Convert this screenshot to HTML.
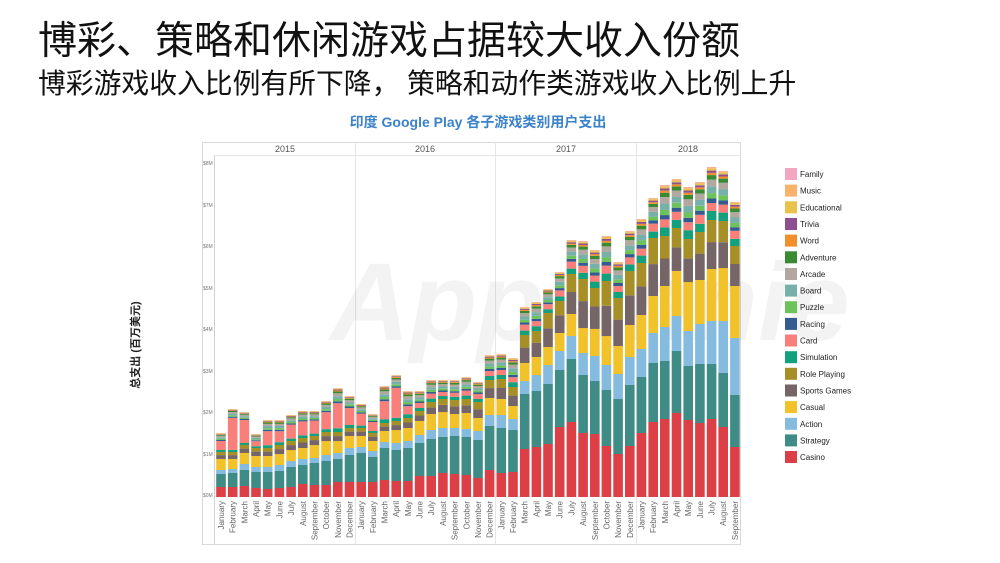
<!DOCTYPE html>
<html><head><meta charset="utf-8"><style>
body{margin:0;width:1000px;height:563px;background:#fff;overflow:hidden;font-family:"Liberation Sans","Noto Sans CJK SC",sans-serif;}
.t1{position:absolute;left:38px;top:10px;font-size:39px;color:#111;white-space:nowrap;}
.t2{position:absolute;left:38px;top:62px;font-size:27.8px;color:#111;white-space:nowrap;}
svg{position:absolute;left:0;top:0;}
</style></head><body>
<div class="t1">博彩、策略和休闲游戏占据较大收入份额</div>
<div class="t2">博彩游戏收入比例有所下降， 策略和动作类游戏收入比例上升</div>
<svg width="1000" height="563" xmlns="http://www.w3.org/2000/svg" font-family="Liberation Sans, Noto Sans CJK SC, sans-serif">
<text x="478" y="127" text-anchor="middle" font-size="14" font-weight="bold" fill="#3b82c8">印度 Google Play 各子游戏类别用户支出</text>
<text transform="translate(139,345) rotate(-90)" text-anchor="middle" font-size="11" font-weight="bold" fill="#222">总支出 (百万美元)</text>
<rect x="202.5" y="142.5" width="538" height="402" fill="none" stroke="#d8d8d8"/>
<line x1="214.5" y1="155" x2="214.5" y2="544" stroke="#d0d0d0"/>
<line x1="214" y1="155.5" x2="741" y2="155.5" stroke="#e6e6e6"/>
<g stroke="#e6e6e6"><line x1="355.5" y1="142" x2="355.5" y2="544"/><line x1="495.5" y1="142" x2="495.5" y2="544"/><line x1="636.5" y1="142" x2="636.5" y2="544"/></g>
<g font-size="9" fill="#555" text-anchor="middle"><text x="285" y="152">2015</text><text x="425" y="152">2016</text><text x="566" y="152">2017</text><text x="688" y="152">2018</text></g>
<text x="590" y="340" font-size="110" font-style="italic" font-weight="bold" fill="#000" opacity="0.045" text-anchor="middle">AppAnnie</text>
<g font-size="5" fill="#777"><text x="203" y="165">$8M</text><text x="203" y="207">$7M</text><text x="203" y="248">$6M</text><text x="203" y="290">$5M</text><text x="203" y="331">$4M</text><text x="203" y="373">$3M</text><text x="203" y="414">$2M</text><text x="203" y="456">$1M</text><text x="203" y="497">$0M</text></g>
<g id="bars"></g>
<g font-size="8" fill="#666" text-anchor="end">
<text transform="translate(224,501) rotate(-90)">January</text>
<text transform="translate(235.7,501) rotate(-90)">February</text>
<text transform="translate(247.4,501) rotate(-90)">March</text>
<text transform="translate(259,501) rotate(-90)">April</text>
<text transform="translate(270.7,501) rotate(-90)">May</text>
<text transform="translate(282.4,501) rotate(-90)">June</text>
<text transform="translate(294.1,501) rotate(-90)">July</text>
<text transform="translate(305.8,501) rotate(-90)">August</text>
<text transform="translate(317.4,501) rotate(-90)">September</text>
<text transform="translate(329.1,501) rotate(-90)">October</text>
<text transform="translate(340.8,501) rotate(-90)">November</text>
<text transform="translate(352.5,501) rotate(-90)">December</text>
<text transform="translate(364.2,501) rotate(-90)">January</text>
<text transform="translate(375.8,501) rotate(-90)">February</text>
<text transform="translate(387.5,501) rotate(-90)">March</text>
<text transform="translate(399.2,501) rotate(-90)">April</text>
<text transform="translate(410.9,501) rotate(-90)">May</text>
<text transform="translate(422.6,501) rotate(-90)">June</text>
<text transform="translate(434.2,501) rotate(-90)">July</text>
<text transform="translate(445.9,501) rotate(-90)">August</text>
<text transform="translate(457.6,501) rotate(-90)">September</text>
<text transform="translate(469.3,501) rotate(-90)">October</text>
<text transform="translate(481,501) rotate(-90)">November</text>
<text transform="translate(492.6,501) rotate(-90)">December</text>
<text transform="translate(504.3,501) rotate(-90)">January</text>
<text transform="translate(516,501) rotate(-90)">February</text>
<text transform="translate(527.7,501) rotate(-90)">March</text>
<text transform="translate(539.4,501) rotate(-90)">April</text>
<text transform="translate(551,501) rotate(-90)">May</text>
<text transform="translate(562.7,501) rotate(-90)">June</text>
<text transform="translate(574.4,501) rotate(-90)">July</text>
<text transform="translate(586.1,501) rotate(-90)">August</text>
<text transform="translate(597.8,501) rotate(-90)">September</text>
<text transform="translate(609.4,501) rotate(-90)">October</text>
<text transform="translate(621.1,501) rotate(-90)">November</text>
<text transform="translate(632.8,501) rotate(-90)">December</text>
<text transform="translate(644.5,501) rotate(-90)">January</text>
<text transform="translate(656.2,501) rotate(-90)">February</text>
<text transform="translate(667.8,501) rotate(-90)">March</text>
<text transform="translate(679.5,501) rotate(-90)">April</text>
<text transform="translate(691.2,501) rotate(-90)">May</text>
<text transform="translate(702.9,501) rotate(-90)">June</text>
<text transform="translate(714.6,501) rotate(-90)">July</text>
<text transform="translate(726.2,501) rotate(-90)">August</text>
<text transform="translate(737.9,501) rotate(-90)">September</text>
</g>
<g font-size="8" fill="#222">
<rect x="785" y="168" width="12" height="12" fill="#f4a6c0"/><text x="800" y="177">Family</text>
<rect x="785" y="184.6" width="12" height="12" fill="#f9b16e"/><text x="800" y="193.6">Music</text>
<rect x="785" y="201.3" width="12" height="12" fill="#e8c24a"/><text x="800" y="210.3">Educational</text>
<rect x="785" y="218" width="12" height="12" fill="#8c4f8f"/><text x="800" y="227">Trivia</text>
<rect x="785" y="234.6" width="12" height="12" fill="#f28e2b"/><text x="800" y="243.6">Word</text>
<rect x="785" y="251.3" width="12" height="12" fill="#3a8a34"/><text x="800" y="260.3">Adventure</text>
<rect x="785" y="268" width="12" height="12" fill="#b2a8a0"/><text x="800" y="277">Arcade</text>
<rect x="785" y="284.6" width="12" height="12" fill="#76b0a8"/><text x="800" y="293.6">Board</text>
<rect x="785" y="301.2" width="12" height="12" fill="#6dc35a"/><text x="800" y="310.2">Puzzle</text>
<rect x="785" y="317.9" width="12" height="12" fill="#345a91"/><text x="800" y="326.9">Racing</text>
<rect x="785" y="334.5" width="12" height="12" fill="#f87f7a"/><text x="800" y="343.5">Card</text>
<rect x="785" y="351.2" width="12" height="12" fill="#13a07c"/><text x="800" y="360.2">Simulation</text>
<rect x="785" y="367.8" width="12" height="12" fill="#a78f27"/><text x="800" y="376.8">Role Playing</text>
<rect x="785" y="384.5" width="12" height="12" fill="#756566"/><text x="800" y="393.5">Sports Games</text>
<rect x="785" y="401.1" width="12" height="12" fill="#f1c229"/><text x="800" y="410.1">Casual</text>
<rect x="785" y="417.8" width="12" height="12" fill="#86bbe0"/><text x="800" y="426.8">Action</text>
<rect x="785" y="434.4" width="12" height="12" fill="#3f8c86"/><text x="800" y="443.4">Strategy</text>
<rect x="785" y="451" width="12" height="12" fill="#dd3f47"/><text x="800" y="460">Casino</text>
</g>
</svg>
<script>
var D=[[10,13,4,11,7,9,10],[10,14,4,10,7,32,11],[11,16,6,11,8,23,10],[9,16,5,11,8,5,9],[8,17,5,11,8,14,14],[9,17,6,11,9,11,14],[10,20,6,11,9,14,12],[13,19,6,11,10,14,13],[12,22,5,13,9,13,12],[12,24,6,14,9,17,14],[15,23,6,12,9,25,19],[15,27,7,12,8,17,15],
[15,29,6,11,8,12,12],[15,25,6,10,8,9,10],[17,32,6,11,8,18,19],[16,31,7,13,9,30,16],[16,33,7,13,10,8,19],[21,33,8,14,10,5,15],[21,37,9,16,12,5,17],[24,36,9,16,13,4,15],[23,38,8,14,14,4,16],[22,38,8,16,14,5,17],[19,38,9,13,16,5,15],[27,44,11,17,18,5,20],
[24,45,13,16,20,5,20],[25,42,11,13,19,5,24],[48,55,13,18,28,6,22],[50,56,16,18,26,5,24],[53,60,19,18,34,5,19],[70,57,19,18,32,6,23],[75,63,23,22,40,7,27],[64,58,22,25,49,7,31],[63,53,25,27,41,6,32],[51,56,25,29,55,8,37],[43,55,25,28,48,6,30],[51,61,28,32,54,7,33],
[64,56,28,34,52,7,37],[75,59,30,37,58,8,32],[78,58,34,41,50,8,43],[84,62,35,45,43,8,41],[77,54,35,49,43,8,44],[74,59,40,44,48,9,41],[78,55,43,52,49,8,45],[70,54,52,53,47,8,42],[50,52,57,52,40,8,36]];
var C=['#dd3f47','#3f8c86','#86bbe0','#f1c229','#756566','#a78f27','#f87f7a'];
var R=[['#13a07c',.2],['#345a91',.1],['#6dc35a',.12],['#76b0a8',.15],['#b2a8a0',.15],['#3a8a34',.1],['#f28e2b',.05],['#8c4f8f',.05],['#e8c24a',.04],['#f9b16e',.03],['#f4a6c0',.01]];
var s='';
D.forEach(function(d,i){var cx=221+i*11.68,x=cx-4.8,w=9.6,y=497;
function seg(h,c){y-=h;s+='<rect x="'+x.toFixed(1)+'" y="'+y.toFixed(1)+'" width="'+w+'" height="'+h.toFixed(2)+'" fill="'+c+'"/>';}
seg(d[0],C[0]);seg(d[1],C[1]);seg(d[2],C[2]);seg(d[3],C[3]);seg(d[4]*.55,C[4]);seg(d[4]*.45,C[5]);
seg(d[6]*R[0][1],R[0][0]);seg(d[5],C[6]);
for(var k=1;k<R.length;k++)seg(d[6]*R[k][1],R[k][0]);});
document.getElementById('bars').innerHTML=s;
</script>
</body></html>
